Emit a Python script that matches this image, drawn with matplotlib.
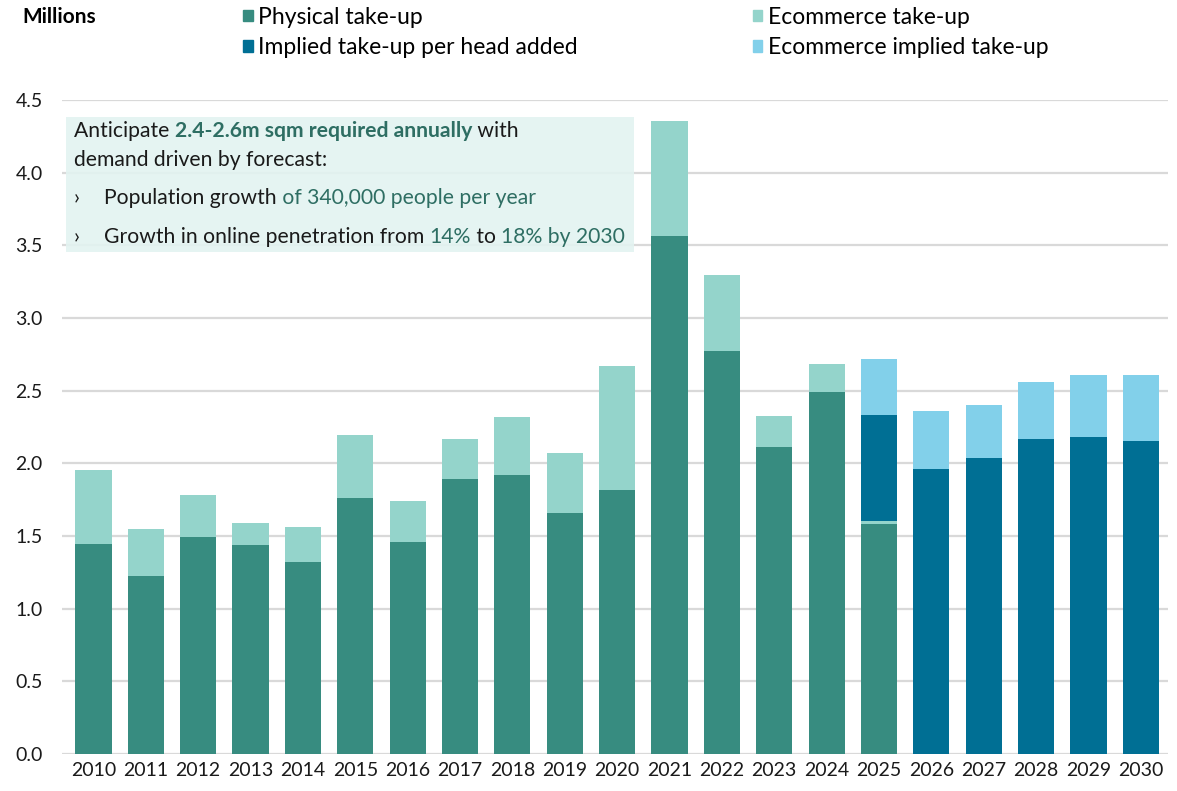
import matplotlib.pyplot as plt
from matplotlib.patches import Rectangle, Patch
import numpy as np

plt.rcParams['font.family'] = ['Lato', 'DejaVu Sans']

years = [str(y) for y in range(2010, 2031)]
physical = [1.445, 1.225, 1.493, 1.438, 1.321, 1.762, 1.459, 1.893, 1.920, 1.659, 1.817,
            3.565, 2.774, 2.113, 2.491, 1.583, 0, 0, 0, 0, 0]
ecommerce = [0.510, 0.324, 0.289, 0.152, 0.241, 0.433, 0.282, 0.275, 0.399, 0.413, 0.853,
             0.792, 0.523, 0.213, 0.193, 0.021, 0, 0, 0, 0, 0]
implied = [0, 0, 0, 0, 0, 0, 0, 0, 0, 0, 0,
           0, 0, 0, 0, 0.729, 1.961, 2.037, 2.168, 2.182, 2.154]
ecom_implied = [0, 0, 0, 0, 0, 0, 0, 0, 0, 0, 0,
                0, 0, 0, 0, 0.385, 0.400, 0.365, 0.392, 0.426, 0.454]

c_phys = '#378C80'
c_ecom = '#94D4CB'
c_impl = '#006F94'
c_ecim = '#82D0EA'
c_text = '#2E6E63'

fig = plt.figure(figsize=(11.77, 7.91), dpi=100)
ax = fig.add_axes([0.0527, 0.0468, 0.9397, 0.8268])

x = np.arange(len(years))
w = 0.69
phys = np.array(physical)
ecom = np.array(ecommerce)
impl = np.array(implied)
ecim = np.array(ecom_implied)
ax.bar(x, phys, w, color=c_phys, zorder=3)
ax.bar(x, ecom, w, bottom=phys, color=c_ecom, zorder=3)
ax.bar(x, impl, w, bottom=phys + ecom, color=c_impl, zorder=3)
ax.bar(x, ecim, w, bottom=phys + ecom + impl, color=c_ecim, zorder=3)

ax.set_ylim(0, 4.5)
ax.set_xlim(-0.6, 20.52)
ax.set_yticks(np.arange(0, 4.51, 0.5))
ax.set_yticklabels([f'{v:.1f}' for v in np.arange(0, 4.51, 0.5)])
ax.set_xticks(x)
ax.set_xticklabels(years)
ax.tick_params(length=0, labelsize=14, colors='#1a1a1a', pad=6)
ax.tick_params(axis='y', pad=14)
ax.grid(axis='y', color='#D9D9D9', linewidth=1.6, zorder=0)
for s in ax.spines.values():
    s.set_visible(False)

fig.text(0.019, 0.978, 'Millions', fontsize=15, fontweight='bold', va='center', ha='left')

handles = [Patch(color=c_phys), Patch(color=c_impl), Patch(color=c_ecom), Patch(color=c_ecim)]
labels = ['Physical take-up', 'Implied take-up per head added', 'Ecommerce take-up', 'Ecommerce implied take-up']
fig.legend(handles, labels, ncol=2, loc='upper left', bbox_to_anchor=(0.199, 1.003), frameon=False,
           fontsize=16.5, handlelength=0.4, handleheight=0.4, handletextpad=0.25,
           columnspacing=7.65, labelspacing=0.4, borderaxespad=0)

# annotation box, drawn inside the axes so it sits above the grid
ax.add_patch(Rectangle((66 / 1177, 1 - 252 / 791), (634 - 66) / 1177, (252 - 117) / 791,
                       transform=fig.transFigure, facecolor='#E3F3F1', alpha=0.9,
                       edgecolor='none', zorder=4, clip_on=False))

fs = 15.2

def chain(parts, x0, y0):
    t = ax.text(x0, y0, parts[0][0], color=parts[0][1], fontweight=parts[0][2],
                fontsize=fs, va='baseline', ha='left', zorder=6, transform=fig.transFigure)
    for txt, col, fw in parts[1:]:
        t = ax.annotate(txt, xy=(1, 0), xycoords=t, va='bottom', ha='left', color=col,
                        fontweight=fw, fontsize=fs, zorder=6, annotation_clip=False)
    return t

k = '#1a1a1a'
chain([('Anticipate ', k, 'normal'), ('2.4-2.6m sqm required annually', c_text, 'bold'),
       (' with', k, 'normal')], 74 / 1177, 1 - 137 / 791)
chain([('demand driven by forecast:', k, 'normal')], 74 / 1177, 1 - 166 / 791)
ax.text(74 / 1177, 1 - 204 / 791, '›', fontsize=fs, color=k, va='baseline', zorder=6,
        transform=fig.transFigure)
chain([('Population growth', k, 'normal'), (' of 340,000 people per year', c_text, 'normal')],
      104 / 1177, 1 - 204 / 791)
ax.text(74 / 1177, 1 - 243 / 791, '›', fontsize=fs, color=k, va='baseline', zorder=6,
        transform=fig.transFigure)
chain([('Growth in online penetration from ', k, 'normal'), ('14%', c_text, 'normal'),
       (' to ', k, 'normal'), ('18% by 2030', c_text, 'normal')], 104 / 1177, 1 - 243 / 791)

fig.savefig('out.png', dpi=100)
